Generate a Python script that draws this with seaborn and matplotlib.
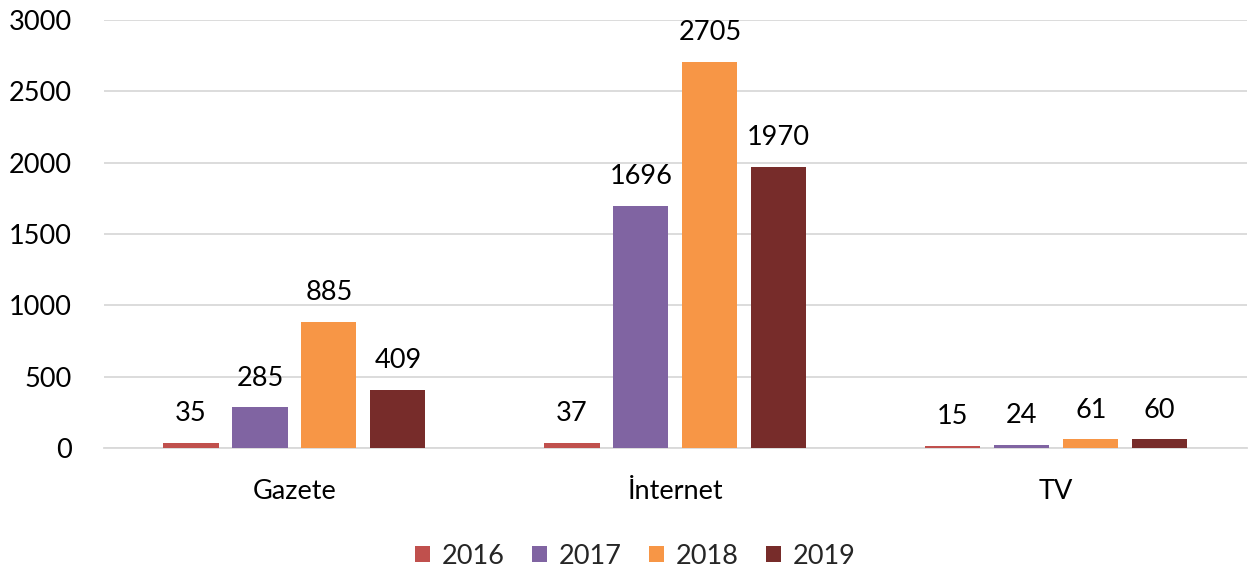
import pandas as pd
import matplotlib
matplotlib.use("Agg")
import matplotlib.pyplot as plt
import seaborn as sns

# data
categories = ["Gazete", "İnternet", "TV"]
years = ["2016", "2017", "2018", "2019"]
v2016 = [35, 37, 15]
v2017 = [285, 1696, 24]
v2018 = [885, 2705, 61]
v2019 = [409, 1970, 60]
colors = ["#C0504D", "#8064A2", "#F79646", "#772C2A"]

rows = []
for year, vals in zip(years, [v2016, v2017, v2018, v2019]):
    for cat, v in zip(categories, vals):
        rows.append({"kategori": cat, "yil": year, "deger": v})
df = pd.DataFrame(rows)

sns.set_style("white")
plt.rcParams["font.family"] = ["Lato", "DejaVu Sans"]
fs = 19.5

fig = plt.figure(figsize=(12.48, 5.77), dpi=100)
ax = fig.add_axes([0.0833, 0.2236, 0.9157, 0.7417])

sns.barplot(data=df, x="kategori", y="deger", hue="yil", palette=colors,
            width=0.724, gap=0.2, ax=ax, saturation=1, linewidth=0, zorder=3)

for c in ax.containers:
    ax.bar_label(c, fmt="%d", padding=12, fontsize=fs, color="#000000")

ax.set_ylim(0, 3000)
ax.set_yticks(range(0, 3001, 500))
ax.yaxis.grid(True, color="#d9d9d9", linewidth=1.3, zorder=0)
ax.set_axisbelow(True)
ax.set_xlabel("")
ax.set_ylabel("")
for s in ["top", "right", "left"]:
    ax.spines[s].set_visible(False)
ax.spines["bottom"].set_color("#d9d9d9")
ax.spines["bottom"].set_linewidth(1.3)
ax.spines["bottom"].set_zorder(1)
ax.tick_params(axis="both", length=0, labelsize=fs, colors="#000000")
ax.tick_params(axis="y", pad=23)
ax.tick_params(axis="x", pad=22)

ax.legend(loc="lower center", bbox_to_anchor=(0.509, -0.028), bbox_transform=fig.transFigure,
          ncol=4, frameon=False, fontsize=fs, handlelength=0.55, handleheight=0.55,
          columnspacing=1.0, handletextpad=0.45)

fig.savefig("out.png", dpi=100)
